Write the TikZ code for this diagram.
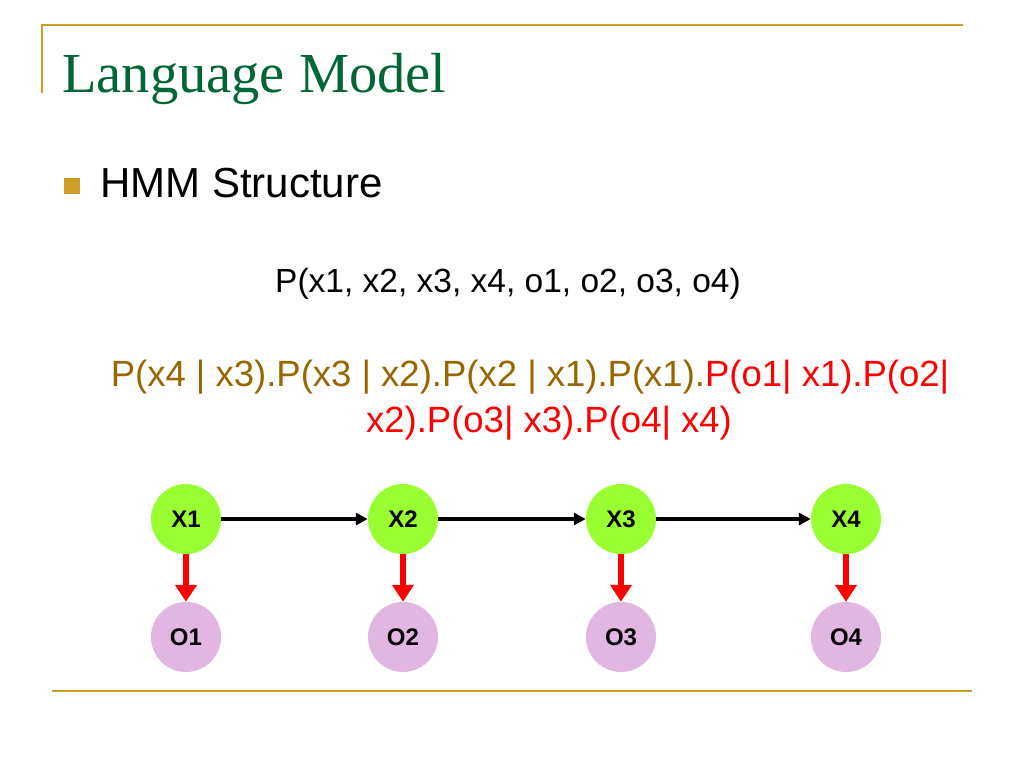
\documentclass[tikz,border=0pt]{standalone}
\usepackage{fontspec}
\setsansfont{Liberation Sans}
\newfontfamily\titlefont{Liberation Serif}
\usetikzlibrary{arrows.meta}
\definecolor{gold}{RGB}{206,158,38}
\definecolor{titlegreen}{RGB}{0,102,51}
\definecolor{brownf}{RGB}{153,102,0}
\definecolor{redf}{RGB}{255,0,0}
\definecolor{limeg}{RGB}{153,255,51}
\definecolor{pinkn}{RGB}{225,182,225}
\tikzset{
  hidden/.style={circle, fill=limeg, minimum size=70pt, inner sep=0pt, font=\sffamily\bfseries\fontsize{24}{27}\selectfont},
  obs/.style={circle, fill=pinkn, minimum size=70pt, inner sep=0pt, font=\sffamily\bfseries\fontsize{24}{27}\selectfont},
  trans/.style={draw=black, line width=3.2pt, -{Triangle[length=12pt,width=12pt]}},
  emit/.style={draw=redf, line width=6pt, -{Triangle[length=17pt,width=21pt]}},
  rule/.style={draw=gold, line width=2pt},
}
\begin{document}
\begin{tikzpicture}[x=1pt,y=-1pt]
\useasboundingbox[fill=white] (0,0) rectangle (1024,768);
% decorative lines
\coordinate (tl) at (42,25);
\coordinate (tr) at (963,25);
\coordinate (tb) at (42,93);
\coordinate (bl) at (52,691);
\coordinate (br) at (972,691);
\draw[rule, line width=1.6pt] (tb) -- (tl) -- (tr);
\draw[rule] (bl) -- (br);
% title
\node[anchor=base west, inner sep=0pt, text=titlegreen, font=\titlefont\fontsize{56.5}{62}\selectfont] (title) at (62,92) {Language Model};
% bullet
\node[fill=gold, minimum size=16pt, inner sep=0pt, anchor=north west] (bullet) at (64,178) {};
\node[anchor=base west, inner sep=0pt, font=\sffamily\fontsize{42}{48}\selectfont] (hmm) at (100,197) {HMM Structure};
% joint probability
\node[anchor=base, inner sep=0pt, font=\sffamily\fontsize{33.5}{38}\selectfont] (joint) at (508,292) {P(x1, x2, x3, x4, o1, o2, o3, o4)};
% factorization
\node[anchor=base, inner sep=0pt, font=\sffamily\fontsize{36.5}{42}\selectfont] (fact1) at (530,386) {\textcolor{brownf}{P(x4 | x3).P(x3 | x2).P(x2 | x1).P(x1).}\textcolor{redf}{P(o1| x1).P(o2|}};
\node[anchor=base, inner sep=0pt, text=redf, font=\sffamily\fontsize{36.5}{42}\selectfont] (fact2) at (549,432) {x2).P(o3| x3).P(o4| x4)};
% HMM nodes
\node[hidden] (x1) at (186,519) {X1};
\node[hidden] (x2) at (403,519) {X2};
\node[hidden] (x3) at (621,519) {X3};
\node[hidden] (x4) at (846,519) {X4};
\node[obs] (o1) at (186,637) {O1};
\node[obs] (o2) at (403,637) {O2};
\node[obs] (o3) at (621,637) {O3};
\node[obs] (o4) at (846,637) {O4};
% connectors
\draw[trans] (x1) -- (x2);
\draw[trans] (x2) -- (x3);
\draw[trans] (x3) -- (x4);
\draw[emit] (x1) -- (o1);
\draw[emit] (x2) -- (o2);
\draw[emit] (x3) -- (o3);
\draw[emit] (x4) -- (o4);
\end{tikzpicture}
\end{document}
